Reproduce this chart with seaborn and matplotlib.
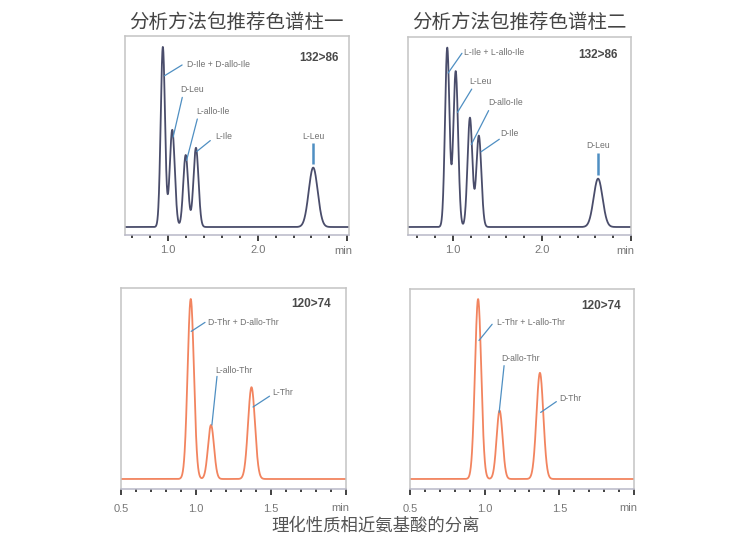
import numpy as np
import pandas as pd
import matplotlib
matplotlib.use("Agg")
import matplotlib.pyplot as plt
import seaborn as sns

# ---------------- data ----------------
titles = ["分析方法包推荐色谱柱一", "分析方法包推荐色谱柱二"]
caption = "理化性质相近氨基酸的分离"
transitions = ["132>86", "132>86", "120>74", "120>74"]

# column 1, Ile/Leu (132>86): retention time (min), relative height, peak sigma (min)
c1_ile_rt = [0.94, 1.045, 1.195, 1.31, 2.62]
c1_ile_h = [100, 54, 40, 44, 33]
c1_ile_w = [0.024, 0.028, 0.027, 0.028, 0.05]
c1_ile_names = ["D-Ile + D-allo-Ile", "D-Leu", "L-allo-Ile", "L-Ile", "L-Leu"]

# column 2, Ile/Leu (132>86)
c2_ile_rt = [0.935, 1.03, 1.19, 1.29, 2.63]
c2_ile_h = [100, 87, 61, 51, 27]
c2_ile_w = [0.025, 0.027, 0.027, 0.028, 0.05]
c2_ile_names = ["L-Ile + L-allo-Ile", "L-Leu", "D-allo-Ile", "D-Ile", "D-Leu"]

# column 1, Thr (120>74)
c1_thr_rt = [0.965, 1.10, 1.37]
c1_thr_h = [100, 30, 51]
c1_thr_w = [0.021, 0.02, 0.023]
c1_thr_names = ["D-Thr + D-allo-Thr", "L-allo-Thr", "L-Thr"]

# column 2, Thr (120>74)
c2_thr_rt = [0.956, 1.10, 1.37]
c2_thr_h = [100, 38, 59]
c2_thr_w = [0.021, 0.02, 0.023]
c2_thr_names = ["L-Thr + L-allo-Thr", "D-allo-Thr", "D-Thr"]

# ---------------- layout / style ----------------
W, H = 756, 539
TOP_COLOR = "#4a4d6b"
BOT_COLOR = "#f2845f"
LEAD = "#4f8fc2"
FRAME = "#c4c4c4"
LABEL_FS = 6.2

sns.set_style("white")
plt.rcParams["font.family"] = ["Noto Sans CJK SC", "DejaVu Sans"]

fig = plt.figure(figsize=(W / 100, H / 100), dpi=100)


def add_ax(x0, x1, y0, y1):
    return fig.add_axes([x0 / W, (H - y1) / H, (x1 - x0) / W, (y1 - y0) / H])


panels = [
    dict(box=(125, 349, 36, 235), xlim=(0.517, 3.02), ylim=(-4.44, 106.1),
         rt=c1_ile_rt, h=c1_ile_h, w=c1_ile_w, names=c1_ile_names, color=TOP_COLOR,
         major=[1.0, 2.0, 3.0], labels=["1.0", "2.0", ""], minor=0.2, tr_pos=(2.9, 94),
         lead=[((0.958, 84), (1.155, 90), (1.215, 90.5), "l"),
               ((1.055, 50), (1.157, 72), (1.135, 76.5), "l"),
               ((1.205, 37), (1.325, 60), (1.312, 64), "l"),
               ((1.32, 42), (1.47, 48), (1.525, 50), "l"),
               ((2.62, 35), (2.62, 46.5), (2.62, 50.5), "c")],
         tick_pad=3.0),
    dict(box=(408, 631, 37, 235), xlim=(0.494, 3.0), ylim=(-4.47, 106.1),
         rt=c2_ile_rt, h=c2_ile_h, w=c2_ile_w, names=c2_ile_names, color=TOP_COLOR,
         major=[1.0, 2.0, 3.0], labels=["1.0", "2.0", ""], minor=0.2, tr_pos=(2.85, 96),
         lead=[((0.945, 86), (1.10, 97), (1.125, 97.5), "l"),
               ((1.05, 64), (1.21, 77), (1.18, 81.5), "l"),
               ((1.205, 46), (1.40, 65), (1.40, 69.5), "l"),
               ((1.315, 42), (1.52, 49), (1.535, 52), "l"),
               ((2.63, 29), (2.63, 41.5), (2.63, 45.5), "c")],
         tick_pad=3.0),
    dict(box=(121, 346, 288, 489), xlim=(0.5, 2.0), ylim=(-5.56, 106.1),
         rt=c1_thr_rt, h=c1_thr_h, w=c1_thr_w, names=c1_thr_names, color=BOT_COLOR,
         major=[0.5, 1.0, 1.5, 2.0], labels=["0.5", "1.0", "1.5", ""], minor=0.1,
         tr_pos=(1.90, 97),
         lead=[((0.968, 82), (1.06, 87), (1.08, 87), "l"),
               ((1.106, 30), (1.14, 57), (1.13, 60.5), "l"),
               ((1.38, 40), (1.49, 46), (1.51, 48), "l")],
         tick_pad=6.0),
    dict(box=(410, 634, 289, 489), xlim=(0.5, 2.0), ylim=(-5.56, 105.6),
         rt=c2_thr_rt, h=c2_thr_h, w=c2_thr_w, names=c2_thr_names, color=BOT_COLOR,
         major=[0.5, 1.0, 1.5, 2.0], labels=["0.5", "1.0", "1.5", ""], minor=0.1,
         tr_pos=(1.91, 96),
         lead=[((0.962, 77), (1.05, 86), (1.08, 87), "l"),
               ((1.097, 37), (1.13, 63), (1.11, 67), "l"),
               ((1.375, 37), (1.48, 43), (1.50, 45), "l")],
         tick_pad=6.0),
]

for i, p in enumerate(panels):
    ax = add_ax(*p["box"])
    t = np.linspace(p["xlim"][0], p["xlim"][1], 1500)
    sig = np.zeros_like(t)
    for rt, hh, ww in zip(p["rt"], p["h"], p["w"]):
        sig += hh * np.exp(-0.5 * ((t - rt) / ww) ** 2)
    df = pd.DataFrame({"time": t, "signal": sig})
    sns.lineplot(data=df, x="time", y="signal", ax=ax, color=p["color"], lw=1.3)

    ax.set_xlim(*p["xlim"])
    ax.set_ylim(*p["ylim"])
    ax.set_xlabel("")
    ax.set_ylabel("")
    ax.set_yticks([])
    for s in ax.spines.values():
        s.set_color(FRAME)
        s.set_linewidth(1.1)
    ax.spines["bottom"].set_color("#b8b8c8")

    ax.set_xticks(p["major"])
    ax.set_xticklabels(p["labels"], fontsize=8, color="#777777",
                       family=["Liberation Sans", "DejaVu Sans"])
    mstep = p["minor"]
    start = np.ceil((p["xlim"][0] - 1e-6) / mstep) * mstep
    minors = np.round(np.arange(start, p["xlim"][1] + 1e-6, mstep), 3)
    minors = [m for m in minors if not any(abs(m - M) < 1e-6 for M in p["major"])]
    ax.set_xticks(minors, minor=True)
    ax.tick_params(axis="x", which="major", direction="out", length=4.5, width=1.3,
                   color="#333333", pad=p["tick_pad"], bottom=True)
    ax.tick_params(axis="x", which="minor", direction="out", length=2.5, width=1.3,
                   color="#333333", bottom=True)

    ax.annotate("min", xy=(1, 0), xycoords="axes fraction",
                xytext=(-6, -16 if i < 2 else -19), textcoords="offset pixels",
                ha="center", va="center", fontsize=8, color="#777777",
                family=["Liberation Sans", "DejaVu Sans"])

    ax.text(p["tr_pos"][0], p["tr_pos"][1], transitions[i], ha="right", va="center",
            fontsize=8.5, fontweight="bold", color="#4a4a4a",
            family=["Liberation Sans", "DejaVu Sans"])

    for name, (a, b, tp, mode) in zip(p["names"], p["lead"]):
        if mode == "c":
            ax.plot([a[0], b[0]], [a[1], b[1]], color=LEAD, lw=1.8,
                    solid_capstyle="butt")
            ax.text(tp[0], tp[1], name, ha="center", va="center", fontsize=LABEL_FS,
                    color="#6f6f6f", family=["Liberation Sans", "DejaVu Sans"])
        else:
            ax.plot([a[0], b[0]], [a[1], b[1]], color=LEAD, lw=0.9)
            ax.text(tp[0], tp[1], name, ha="left", va="center", fontsize=LABEL_FS,
                    color="#6f6f6f", family=["Liberation Sans", "DejaVu Sans"])

fig.text(236 / W, 1 - 22 / H, titles[0], ha="center", va="center", fontsize=14,
         color="#444444")
fig.text(519 / W, 1 - 22 / H, titles[1], ha="center", va="center", fontsize=14,
         color="#444444")
fig.text(376 / W, 1 - 526 / H, caption, ha="center", va="center", fontsize=12.5,
         color="#555555")

fig.savefig("out.png", dpi=100, facecolor="white")
